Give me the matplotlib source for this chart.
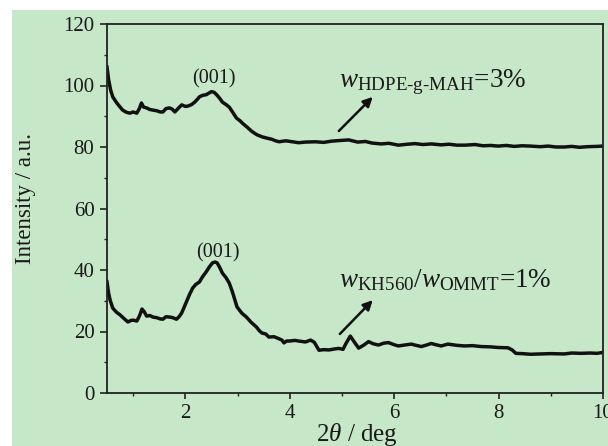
import matplotlib
matplotlib.use("Agg")
import matplotlib.pyplot as plt
from matplotlib.patches import Rectangle

plt.rcParams['font.family'] = ['Liberation Serif', 'DejaVu Serif']
plt.rcParams['mathtext.fontset'] = 'custom'
plt.rcParams['mathtext.rm'] = 'Liberation Serif'
plt.rcParams['mathtext.it'] = 'Liberation Serif:italic'

# XRD pattern, HDPE-g-MAH 3 %
two_theta_a = [0.50, 0.53, 0.57, 0.61, 0.68, 0.75, 0.80, 0.87, 0.94, 1.00, 1.07, 1.12, 1.16, 1.20,
               1.26, 1.32, 1.38, 1.45, 1.52, 1.57, 1.63, 1.70, 1.75, 1.80, 1.86, 1.93, 2.00, 2.05,
               2.12, 2.18, 2.23, 2.27, 2.33, 2.40, 2.45, 2.50, 2.55, 2.60, 2.66, 2.71, 2.78, 2.84,
               2.90, 2.98, 3.05, 3.09, 3.18, 3.28, 3.37, 3.47, 3.56, 3.66, 3.73, 3.80, 3.87, 3.93,
               4.05, 4.17, 4.30, 4.49, 4.65, 4.80, 4.95, 5.13, 5.30, 5.45, 5.57, 5.75, 5.90, 6.08,
               6.25, 6.40, 6.55, 6.71, 6.90, 7.05, 7.20, 7.36, 7.55, 7.70, 7.85, 7.99, 8.15, 8.30,
               8.45, 8.61, 8.80, 8.95, 9.10, 9.26, 9.40, 9.55, 9.70, 9.89, 10.0]
intensity_a = [106, 102, 98.5, 96.3, 94.5, 93, 92, 91.3, 91, 91.4, 91, 92.5, 94.3, 93,
               92.7, 92.2, 92, 91.8, 91.4, 91.4, 92.5, 92.7, 92.3, 91.4, 92.5, 93.7, 93.2, 93.3,
               93.8, 94.6, 95.5, 96.3, 96.8, 97, 97.5, 98, 97.8, 97, 95.8, 94.6, 93.8, 93,
               91.5, 89.4, 88.5, 87.8, 86.5, 85, 84, 83.3, 82.9, 82.5, 82, 81.7, 81.9, 82,
               81.7, 81.4, 81.6, 81.7, 81.5, 81.9, 82.1, 82.3, 81.6, 81.8, 81.3, 81.0, 81.2, 80.6,
               80.9, 81.1, 80.8, 81.0, 80.7, 80.9, 80.6, 80.6, 80.8, 80.4, 80.5, 80.3, 80.5, 80.2,
               80.4, 80.3, 80.1, 80.3, 80.0, 80.0, 80.2, 79.9, 80.1, 80.2, 80.3]

# XRD pattern, KH560 / OMMT 1 %
two_theta_b = [0.50, 0.53, 0.56, 0.61, 0.68, 0.75, 0.82, 0.90, 0.96, 1.00, 1.07, 1.10, 1.13, 1.17,
               1.21, 1.26, 1.32, 1.38, 1.45, 1.52, 1.57, 1.63, 1.70, 1.76, 1.83, 1.88, 1.93, 1.98,
               2.02, 2.08, 2.14, 2.20, 2.27, 2.33, 2.40, 2.46, 2.52, 2.57, 2.61, 2.66, 2.71, 2.78,
               2.84, 2.90, 2.99, 3.08, 3.17, 3.26, 3.36, 3.42, 3.47, 3.54, 3.60, 3.70, 3.80, 3.85,
               3.89, 3.94, 3.99, 4.10, 4.17, 4.30, 4.40, 4.47, 4.56, 4.65, 4.75, 4.85, 4.94, 5.02,
               5.08, 5.16, 5.24, 5.32, 5.42, 5.51, 5.60, 5.70, 5.80, 5.89, 6.00, 6.08, 6.20, 6.33,
               6.42, 6.52, 6.62, 6.71, 6.80, 6.90, 7.03, 7.20, 7.35, 7.50, 7.67, 7.85, 7.99, 8.18,
               8.26, 8.33, 8.45, 8.61, 8.80, 9.00, 9.26, 9.40, 9.57, 9.75, 9.89, 10.0]
intensity_b = [36.2, 32.5, 30.2, 27.6, 26.3, 25.4, 24.3, 23.1, 23.6, 23.7, 23.4, 24.3, 25.4, 27.3,
               26.5, 25, 25.2, 24.7, 24.5, 24.1, 24, 24.8, 24.7, 24.5, 24, 24.8, 26, 28,
               29.6, 32, 34.1, 35.3, 36.1, 37.8, 39.4, 41, 42.3, 42.6, 42.3, 40.8, 39, 37.5,
               35.8, 33, 28, 26, 24.7, 23, 21.5, 20.2, 19.5, 19.2, 18.2, 18.3, 17.6, 17.2,
               16.3, 16.9, 16.9, 17.1, 16.9, 16.6, 17.2, 16.5, 13.9, 14.1, 14, 14.3, 14.5, 14.2,
               16.2, 18.5, 16.5, 14.6, 15.6, 16.7, 16.0, 15.6, 16.2, 16.4, 15.7, 15.3, 15.6, 15.9,
               15.5, 15.1, 15.6, 16.1, 15.7, 15.3, 15.9, 15.5, 15.3, 15.4, 15.1, 15.0, 14.8, 14.7,
               14.0, 12.9, 12.8, 12.6, 12.7, 12.8, 12.7, 13.0, 12.9, 13.0, 12.9, 13.2]

peak_label = "(001)"
label_a = r"$w_{\text{HDPE-g-MAH}}$=3%"
label_b = r"$w_{\text{KH560}}$/$w_{\text{OMMT}}$=1%"

bg = "#c6e7c8"
ink = "#111111"

fig = plt.figure(figsize=(6.08, 4.46), dpi=100)
fig.patch.set_facecolor("white")
fig.patches.append(Rectangle((12 / 608, 0), 1, 1 - 10 / 446, transform=fig.transFigure,
                             facecolor=bg, edgecolor="none", zorder=-10))

ax = fig.add_axes([107 / 608, 1 - 393 / 446, (603 - 107) / 608, (393 - 24) / 446])
ax.set_facecolor(bg)

ax.plot(two_theta_a, intensity_a, color=ink, lw=2.5, solid_joinstyle="round")
ax.plot(two_theta_b, intensity_b, color=ink, lw=2.5, solid_joinstyle="round")

ax.set_xlim(0.5, 10)
ax.set_ylim(0, 120)
ax.set_xticks([2, 4, 6, 8, 10])
ax.set_xticks([1, 3, 5, 7, 9], minor=True)
ax.set_yticks([0, 20, 40, 60, 80, 100, 120])
ax.set_yticks([10, 30, 50, 70, 90, 110], minor=True)

for s in ax.spines.values():
    s.set_color("#222222")
    s.set_linewidth(1.3)

ax.tick_params(axis="both", which="major", direction="out", length=5, width=1.2,
               colors="#222222", labelsize=15, labelcolor="#1a1a1a")
ax.tick_params(axis="both", which="minor", direction="out", length=2.5, width=1.0,
               colors="#222222")
ax.tick_params(axis="x", which="major", length=4, pad=4)
ax.tick_params(axis="y", which="major", pad=4)

ax.text(2.54, 102, peak_label, ha="center", va="center", fontsize=14.5, color="#1a1a1a")
ax.text(2.63, 45.5, peak_label, ha="center", va="center", fontsize=14.5, color="#1a1a1a")

ax.text(4.94, 99.5, label_a, ha="left", va="baseline", fontsize=19.5, color="#1a1a1a")
ax.text(4.94, 34.5, label_b, ha="left", va="baseline", fontsize=19.5, color="#1a1a1a")

arrow = dict(arrowstyle="-|>", lw=1.8, color=ink, mutation_scale=14, shrinkA=0, shrinkB=0)
ax.annotate("", xy=(5.59, 96.3), xytext=(4.94, 85.2), arrowprops=arrow)
ax.annotate("", xy=(5.59, 30.2), xytext=(4.96, 19.2), arrowprops=arrow)

fig.text(25 / 608, 1 - 198 / 446, "Intensity / a.u.", rotation=90, ha="center", va="center",
         fontsize=16.5, color="#1a1a1a")
fig.text(357 / 608, 1 - 441 / 446, r"2$\theta$ / deg", ha="center", va="baseline",
         fontsize=18, color="#1a1a1a")

fig.savefig("out.png", dpi=100, facecolor=fig.get_facecolor())
